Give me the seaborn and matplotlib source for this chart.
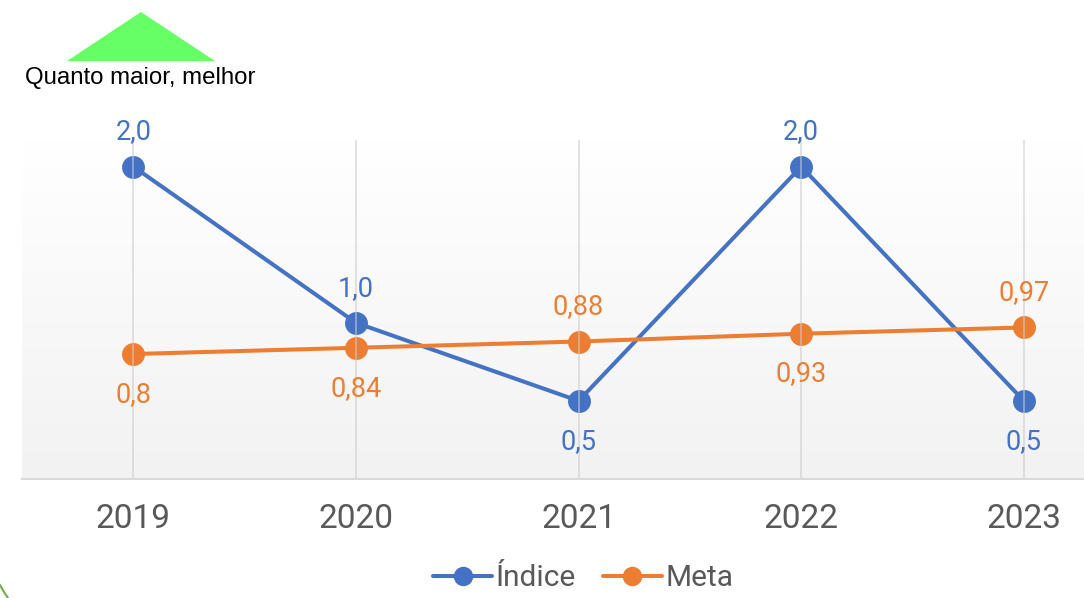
import numpy as np
import pandas as pd
import matplotlib
matplotlib.use("Agg")
import matplotlib.pyplot as plt
from matplotlib.colors import LinearSegmentedColormap
from matplotlib.lines import Line2D
from matplotlib.patches import Polygon
import seaborn as sns

years = ["2019", "2020", "2021", "2022", "2023"]
indice = [2.0, 1.0, 0.5, 2.0, 0.5]
meta = [0.8, 0.84, 0.88, 0.93, 0.97]
indice_labels = ["2,0", "1,0", "0,5", "2,0", "0,5"]
meta_labels = ["0,8", "0,84", "0,88", "0,93", "0,97"]
indice_pos = ["above", "above", "below", "above", "below"]
meta_pos = ["below", "below", "above", "below", "above"]

BLUE = "#4472C4"
ORANGE = "#ED7D31"
GRAY_TXT = "#595959"

sns.set_theme(style="white")
plt.rcParams["font.family"] = ["Roboto", "DejaVu Sans"]

fig = plt.figure(figsize=(10.84, 5.98), dpi=100)
ax = fig.add_axes([22 / 1084, 1 - 479 / 598, 1 - 22 / 1084, (479 - 140) / 598])

xlim = (-0.5, 4.27)
ylim = (0, 2.17)

# gradient background
cmap = LinearSegmentedColormap.from_list("bg", ["#f2f2f2", "#ffffff"])
grad = np.linspace(0, 1, 256)[:, None]
ax.imshow(grad, extent=[xlim[0], xlim[1], ylim[0], ylim[1]], origin="lower",
          aspect="auto", cmap=cmap, zorder=0)

x = np.arange(len(years))
df = pd.DataFrame({
    "x": np.concatenate([x, x]),
    "valor": indice + meta,
    "serie": ["Índice"] * len(x) + ["Meta"] * len(x),
})
sns.lineplot(data=df, x="x", y="valor", hue="serie",
             palette={"Índice": BLUE, "Meta": ORANGE},
             marker="o", markersize=16.5, markeredgewidth=0, linewidth=2.9,
             legend=False, ax=ax, zorder=3)

# vertical gridlines on top (semi-transparent)
for xi in x:
    ax.axvline(xi, color="#cccccc", lw=1.3, alpha=0.6, zorder=5)

ax.set_xlim(*xlim)
ax.set_ylim(*ylim)
ax.set_xticks(x)
ax.set_xticklabels(years, fontsize=24, color=GRAY_TXT)
ax.tick_params(axis="x", length=0, pad=17)
ax.set_yticks([])
ax.set_xlabel("")
ax.set_ylabel("")
for s in ["top", "right", "left"]:
    ax.spines[s].set_visible(False)
ax.spines["bottom"].set_color("#d9d9d9")
ax.spines["bottom"].set_linewidth(1.5)
ax.spines["bottom"].set_zorder(6)

def annotate(vals, labels, pos, color):
    for xi, v, lab, p in zip(x, vals, labels, pos):
        dy = 25 if p == "above" else -29
        ax.annotate(lab, (xi, v), xytext=(0, dy), textcoords="offset points",
                    ha="center", va="center", fontsize=19.5, color=color,
                    zorder=7, annotation_clip=False)

annotate(indice, indice_labels, indice_pos, BLUE)
annotate(meta, meta_labels, meta_pos, ORANGE)

# legend
handles = [
    Line2D([], [], color=BLUE, lw=2.9, marker="o", markersize=14, markeredgewidth=0),
    Line2D([], [], color=ORANGE, lw=2.9, marker="o", markersize=14, markeredgewidth=0),
]
leg = fig.legend(handles, ["Índice", "Meta"], loc="center",
                 bbox_to_anchor=(583 / 1084, 1 - 578 / 598), ncol=2, frameon=False,
                 fontsize=21.5, handlelength=2.0, handletextpad=0.1, columnspacing=0.9)
for t in leg.get_texts():
    t.set_color(GRAY_TXT)

# green triangle "Quanto maior, melhor"
tri = Polygon([[67 / 1084, 1 - 61 / 598], [141 / 1084, 1 - 12 / 598], [215 / 1084, 1 - 61 / 598]],
              closed=True, transform=fig.transFigure, facecolor="#66ff66", edgecolor="none")
fig.patches.append(tri)
fig.text(25 / 1084, 1 - 78 / 598, "Quanto maior, melhor", fontsize=17.3,
         family=["Liberation Sans", "DejaVu Sans"], color="black", ha="left", va="center")

# corner arc
fig.add_artist(Line2D([0 / 1084, 4 / 1084, 8 / 1084], [1 - 585 / 598, 1 - 592 / 598, 1 - 598 / 598],
                      transform=fig.transFigure, color="#70AD47", lw=1.5))

fig.savefig("out.png", dpi=100)
